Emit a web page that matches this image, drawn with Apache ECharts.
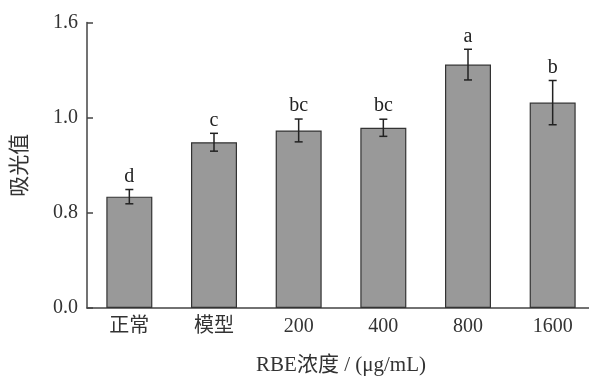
<!DOCTYPE html>
<html><head><meta charset="utf-8">
<script src="https://cdn.jsdelivr.net/npm/echarts@6/dist/echarts.min.js"></script>
<style>html,body{margin:0;padding:0;background:#fff}#c{width:589px;height:376px}</style>
</head><body><div id="c"></div>
<script>
var categories = ['正常', '模型', '200', '400', '800', '1600'];
var values = [0.624, 0.929, 0.995, 1.010, 1.364, 1.151];
var errors = [0.040, 0.050, 0.064, 0.048, 0.086, 0.124];
var letters = ['d', 'c', 'bc', 'bc', 'a', 'b'];
var yTickLabels = ['0.0', '0.8', '1.0', '1.6'];
var yMax = 1.6;
var yStep = yMax / 3;

var serif = '"Liberation Serif","Noto Sans CJK SC",serif';
var chart = echarts.init(document.getElementById('c'), null, {renderer: 'canvas'});
var errData = values.map(function (v, i) { return [i, v, errors[i]]; });
chart.setOption({
  animation: false,
  backgroundColor: '#fff',
  grid: {left: 87, top: 22.5, width: 508, height: 285.5, containLabel: false, outerBoundsMode: 'none'},
  xAxis: {
    type: 'category', data: categories,
    name: 'RBE浓度 / (μg/mL)', nameLocation: 'middle', nameGap: 47,
    nameTextStyle: {fontFamily: serif, fontSize: 21, color: '#333'},
    axisLine: {lineStyle: {color: '#444', width: 1.5}},
    axisTick: {show: false},
    axisLabel: {fontFamily: serif, fontSize: 20, color: '#333', margin: 9}
  },
  yAxis: {
    type: 'value', min: 0, max: yMax, interval: yStep,
    name: '吸光值', nameLocation: 'middle', nameGap: 56, nameRotate: 90,
    nameTextStyle: {fontFamily: serif, fontSize: 21, color: '#333'},
    axisLine: {show: true, lineStyle: {color: '#444', width: 1.5}},
    axisTick: {show: true, inside: true, length: 6, lineStyle: {color: '#444', width: 1.5}},
    splitLine: {show: false},
    axisLabel: {fontFamily: serif, fontSize: 20, color: '#333', margin: 9,
      formatter: function (v) { return yTickLabels[Math.round(v / yStep)]; }}
  },
  series: [{
    type: 'bar', data: values, barWidth: 46,
    itemStyle: {color: '#999999', borderColor: '#333', borderWidth: 1.2}
  }, {
    type: 'custom', data: errData, z: 5,
    renderItem: function (params, api) {
      var i = api.value(0), v = api.value(1), e = api.value(2);
      var top = api.coord([i, v + e]);
      var bot = api.coord([i, v - e]);
      var cw = 4;
      return {type: 'group', children: [
        {type: 'line', shape: {x1: top[0], y1: top[1], x2: bot[0], y2: bot[1]}, style: {stroke: '#222', lineWidth: 1.5}},
        {type: 'line', shape: {x1: top[0] - cw, y1: top[1], x2: top[0] + cw, y2: top[1]}, style: {stroke: '#222', lineWidth: 1.5}},
        {type: 'line', shape: {x1: bot[0] - cw, y1: bot[1], x2: bot[0] + cw, y2: bot[1]}, style: {stroke: '#222', lineWidth: 1.5}},
        {type: 'text', x: top[0], y: top[1] - 3, style: {text: letters[params.dataIndex], fontFamily: serif, fontSize: 20, fill: '#222', align: 'center', verticalAlign: 'bottom'}}
      ]};
    }
  }]
});
</script></body></html>
